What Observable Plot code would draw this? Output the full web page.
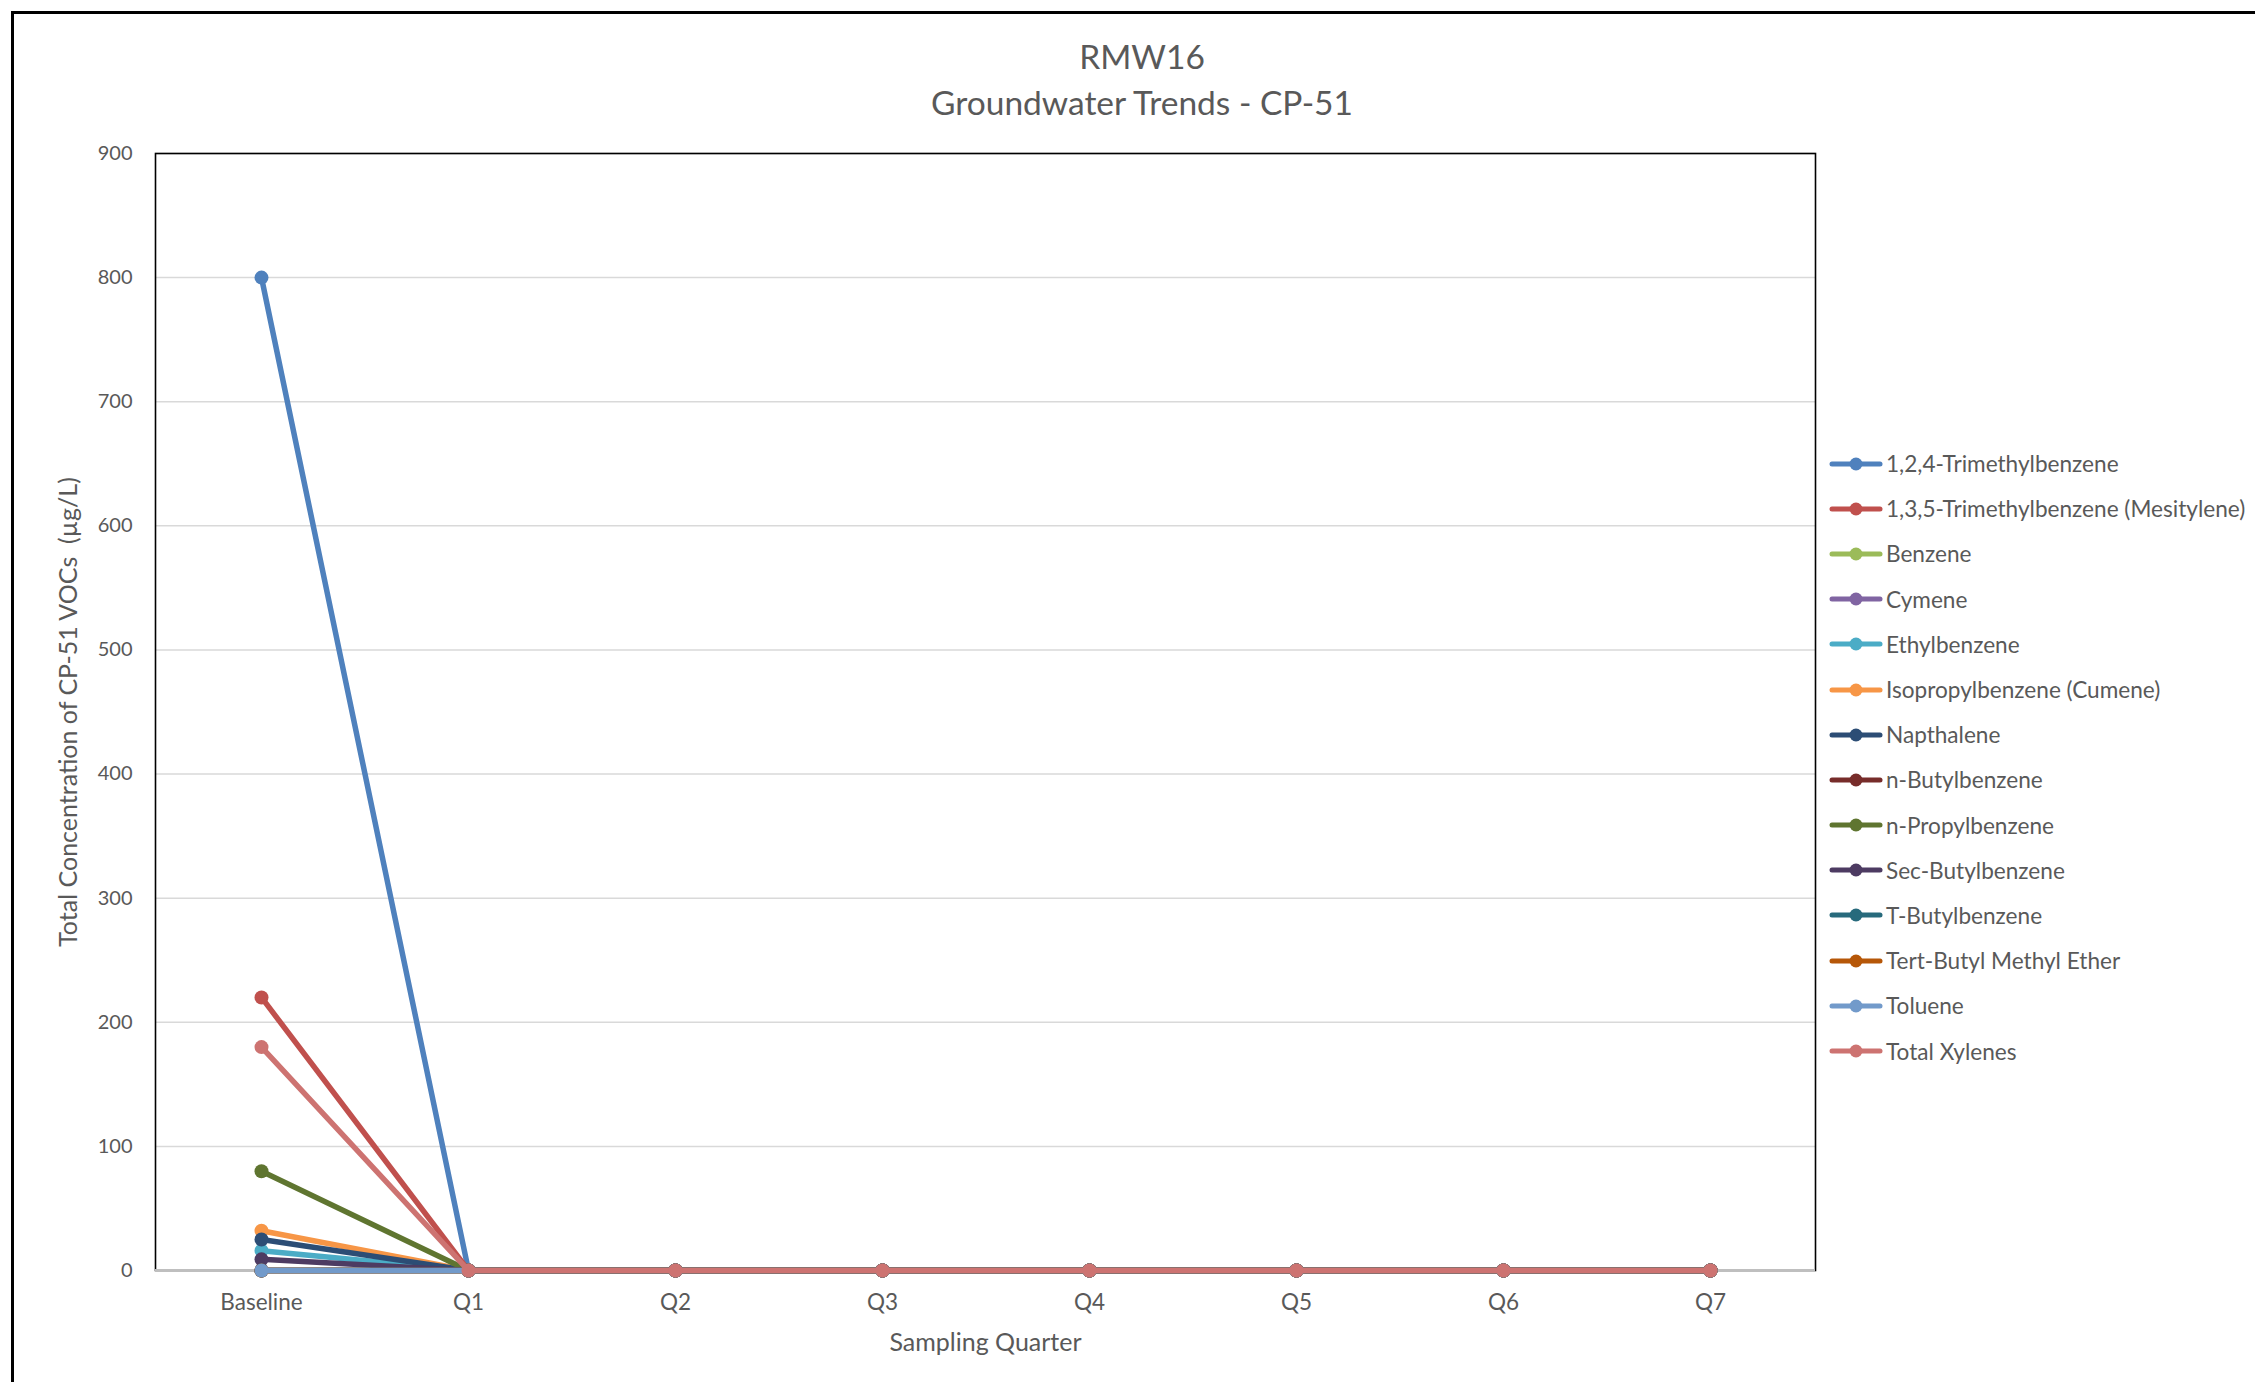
<!DOCTYPE html>
<html>
<head>
<meta charset="utf-8">
<script src="https://cdn.jsdelivr.net/npm/d3@7"></script>
<script src="https://cdn.jsdelivr.net/npm/@observablehq/plot@0.6"></script>
<style>
  html, body { margin: 0; padding: 0; background: #fff; }
  #wrap { position: relative; width: 2255px; height: 1382px; overflow: hidden; font-family: Lato, "Open Sans", sans-serif; color: #595959; }
  #outer { position: absolute; left: 11px; top: 11px; width: 2300px; height: 1400px; border-left: 3px solid #000; border-top: 3px solid #000; }
  #title { position: absolute; left: 742px; width: 800px; top: 33px; text-align: center; font-size: 33.5px; line-height: 46px; color: #595959; }
  #chart { position: absolute; left: 0; top: 0; }
  #legend { position: absolute; left: 1829px; top: 441px; }
  .row { height: 45.2px; display: flex; align-items: center; font-size: 22.6px; color: #595959; white-space: nowrap; }
  .row svg { margin-right: 3px; }
</style>
</head>
<body>
<div id="wrap">
  <div id="outer"></div>
  <div id="chart"></div>
  <div id="title">RMW16<br>Groundwater Trends - CP-51</div>
  <div id="legend"></div>
</div>
<script>
const quarters = ["Baseline", "Q1", "Q2", "Q3", "Q4", "Q5", "Q6", "Q7"];
const seriesNames = [
  "1,2,4-Trimethylbenzene",
  "1,3,5-Trimethylbenzene (Mesitylene)",
  "Benzene",
  "Cymene",
  "Ethylbenzene",
  "Isopropylbenzene (Cumene)",
  "Napthalene",
  "n-Butylbenzene",
  "n-Propylbenzene",
  "Sec-Butylbenzene",
  "T-Butylbenzene",
  "Tert-Butyl Methyl Ether",
  "Toluene",
  "Total Xylenes"
];
const seriesColors = ["#4F81BD", "#C0504D", "#9BBB59", "#8064A2", "#4BACC6", "#F79646", "#2C4D75", "#772C2A", "#5F7530", "#4D3B62", "#276A7C", "#B65708", "#729ACA", "#CD7371"];
// values per series, for Baseline, Q1..Q7
const trimethylbenzene124 = [800, 0, 0, 0, 0, 0, 0, 0];
const trimethylbenzene135 = [220, 0, 0, 0, 0, 0, 0, 0];
const benzene = [0, 0, 0, 0, 0, 0, 0, 0];
const cymene = [0, 0, 0, 0, 0, 0, 0, 0];
const ethylbenzene = [16, 0, 0, 0, 0, 0, 0, 0];
const cumene = [32, 0, 0, 0, 0, 0, 0, 0];
const napthalene = [25, 0, 0, 0, 0, 0, 0, 0];
const nButylbenzene = [0, 0, 0, 0, 0, 0, 0, 0];
const nPropylbenzene = [80, 0, 0, 0, 0, 0, 0, 0];
const secButylbenzene = [9, 0, 0, 0, 0, 0, 0, 0];
const tButylbenzene = [0, 0, 0, 0, 0, 0, 0, 0];
const mtbe = [0, 0, 0, 0, 0, 0, 0, 0];
const toluene = [0, 0, 0, 0, 0, 0, 0, 0];
const totalXylenes = [180, 0, 0, 0, 0, 0, 0, 0];
const seriesValues = [trimethylbenzene124, trimethylbenzene135, benzene, cymene, ethylbenzene, cumene, napthalene, nButylbenzene, nPropylbenzene, secButylbenzene, tButylbenzene, mtbe, toluene, totalXylenes];
const yTicks = [0, 100, 200, 300, 400, 500, 600, 700, 800, 900];

const rows = seriesNames.flatMap((name, i) =>
  seriesValues[i].map((v, j) => ({series: name, quarter: quarters[j], value: v})));

const seriesMarks = seriesNames.flatMap((name) => {
  const d = rows.filter(r => r.series === name);
  return [
    Plot.line(d, {x: "quarter", y: "value", stroke: "series", strokeWidth: 5.5, strokeLinejoin: "round", strokeLinecap: "round"}),
    Plot.dot(d, {x: "quarter", y: "value", fill: "series", r: 7, stroke: "none"})
  ];
});

const chart = Plot.plot({
  width: 2255,
  height: 1382,
  marginLeft: 155,
  marginRight: 440,
  marginTop: 153,
  marginBottom: 112,
  style: {fontFamily: "Lato, 'Open Sans', sans-serif", fontSize: "20px", color: "#595959", background: "transparent", overflow: "visible"},
  x: {type: "point", domain: quarters, padding: 0.5},
  y: {domain: [0, 900]},
  color: {domain: seriesNames, range: seriesColors},
  marks: [
    Plot.gridY(yTicks, {stroke: "#d9d9d9", strokeOpacity: 1, strokeWidth: 1.5}),
    Plot.frame({stroke: "#000", strokeWidth: 1.6}),
    Plot.ruleY([0], {stroke: "#bfbfbf", strokeWidth: 3}),
    Plot.axisY(yTicks, {tickSize: 0, tickPadding: 23, fontSize: 20, fill: "#595959", label: null}),
    Plot.axisY({ticks: [], tickSize: 0, fontSize: 25, fill: "#595959",
      label: "Total Concentration of CP-51 VOCs  (µg/L)", labelAnchor: "center", labelOffset: 96, labelArrow: "none"}),
    Plot.axisX(quarters, {tickSize: 0, tickPadding: 24, fontSize: 22.5, fill: "#595959", label: null}),
    Plot.axisX({ticks: [], tickSize: 0, fontSize: 25, fill: "#595959",
      label: "Sampling Quarter", labelAnchor: "center", labelOffset: 80, labelArrow: "none"}),
    ...seriesMarks
  ]
});
document.getElementById("chart").appendChild(chart);

const legend = document.getElementById("legend");
seriesNames.forEach((name, i) => {
  const row = document.createElement("div");
  row.className = "row";
  row.innerHTML = `<svg width="54" height="16"><line x1="3" y1="8" x2="51" y2="8" stroke="${seriesColors[i]}" stroke-width="5" stroke-linecap="round"/><circle cx="27" cy="8" r="6.5" fill="${seriesColors[i]}"/></svg><span></span>`;
  row.querySelector("span").textContent = name;
  legend.appendChild(row);
});
</script>
</body>
</html>
